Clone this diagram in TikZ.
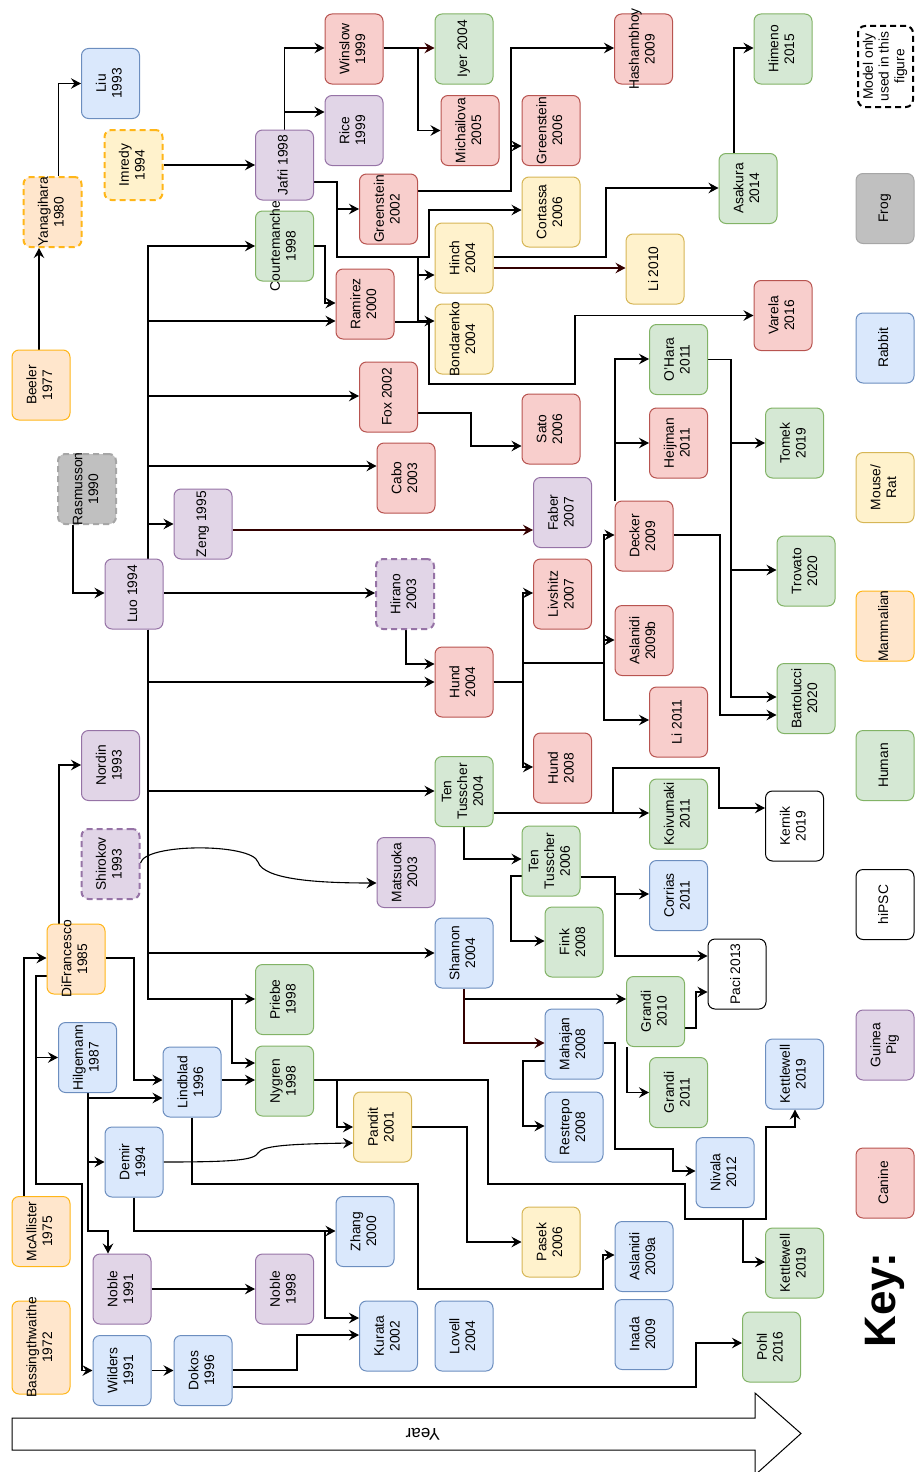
\documentclass[tikz,border=0pt]{standalone}
\usepackage{fontspec}
\setmainfont{Liberation Sans}
\usepackage{graphicx}
\usetikzlibrary{arrows.meta,backgrounds}
\definecolor{bF}{HTML}{DAE8FC}\definecolor{bD}{HTML}{6C8EBF}
\definecolor{gF}{HTML}{D5E8D4}\definecolor{gD}{HTML}{82B366}
\definecolor{rF}{HTML}{F8CECC}\definecolor{rD}{HTML}{B85450}
\definecolor{pF}{HTML}{E1D5E7}\definecolor{pD}{HTML}{9673A6}
\definecolor{yF}{HTML}{FFF2CC}\definecolor{yD}{HTML}{D6B656}
\definecolor{oF}{HTML}{FFE6CC}\definecolor{oD}{HTML}{FFB619}
\definecolor{kF}{HTML}{C0C0C0}\definecolor{kD}{HTML}{A6A6A6}
\definecolor{dkR}{HTML}{330000}
\newcommand{\rt}[1]{\rotatebox{90}{\makebox[0pt]{\begin{tabular}{@{}c@{}}#1\end{tabular}}}}
\newcommand{\fsz}{\fontsize{13.8}{15.8}\selectfont}
\tikzset{
  bx/.style={draw, rounded corners=7pt, minimum width=58pt, minimum height=70pt, inner sep=0pt, line width=1pt, font=\fsz},
  cB/.style={fill=bF, draw=bD},
  cG/.style={fill=gF, draw=gD},
  cR/.style={fill=rF, draw=rD},
  cP/.style={fill=pF, draw=pD},
  cY/.style={fill=yF, draw=yD},
  cO/.style={fill=oF, draw=oD},
  cK/.style={fill=kF, draw=kD},
  cW/.style={fill=white, draw=black},
  dsh/.style={dash pattern=on 6pt off 4pt, line width=2pt},
  ln/.style={line width=1.1pt, draw=black},
  arr/.style={ln, -{Stealth[length=10pt,width=10.5pt,inset=3.5pt]}},
  dk/.style={draw=dkR},
}
\begin{document}
\begin{tikzpicture}[x=1pt,y=-1pt]
\useasboundingbox (0,0) rectangle (916,1472);
% ---------- nodes ----------
\node[bx,cO] (beeler) at (41,385) {\rt{Beeler\\1977}};
\node[bx,cO,dsh,draw=oD] (yanagihara) at (52.5,212) {\rt{Yanagihara\\1980}};
\node[bx,cB] (liu) at (110.5,83.5) {\rt{Liu\\1993}};
\node[bx,cY,dsh,draw=oD] (imredy) at (133.5,165) {\rt{Imredy\\1994}};
\node[bx,cP] (jafri) at (284.5,165) {\rt{Jafri 1998}};
\node[bx,cG] (courtemanche) at (284.5,246) {\rt{Courtemanche\\1998}};
\node[bx,cR] (winslow) at (354,49) {\rt{Winslow\\1999}};
\node[bx,cP] (rice) at (354,130.5) {\rt{Rice\\1999}};
\node[bx,cG] (iyer) at (464,49) {\rt{Iyer 2004}};
\node[bx,cR] (michailova) at (470,130.5) {\rt{Michailova\\2005}};
\node[bx,cR] (greenstein06) at (551,130.5) {\rt{Greenstein\\2006}};
\node[bx,cR] (greenstein02) at (388.5,209) {\rt{Greenstein\\2002}};
\node[bx,cY] (cortassa) at (551,212) {\rt{Cortassa\\2006}};
\node[bx,cY] (hinch) at (464,258) {\rt{Hinch\\2004}};
\node[bx,cR] (ramirez) at (365,304) {\rt{Ramirez\\2000}};
\node[bx,cY] (bondarenko) at (464,339) {\rt{Bondarenko\\2004}};
\node[bx,cR] (hashambhoy) at (643.5,49) {\rt{Hashambhoy\\2009}};
\node[bx,cG] (himeno) at (783,49) {\rt{Himeno\\2015}};
\node[bx,cW,dsh,minimum width=55pt,minimum height=81pt] (modelonly) at (885.5,66.5) {\rt{Model only\\used in this\\figure}};
\node[bx,cG] (asakura) at (748,188.5) {\rt{Asakura\\2014}};
\node[bx,cY] (li2010) at (655,269) {\rt{Li 2010}};
\node[bx,cR] (varela) at (783,315.5) {\rt{Varela\\2016}};
\node[bx,cK] (frog) at (885,208.5) {\rt{Frog}};
\node[bx,cB] (rabbit) at (885,348) {\rt{Rabbit}};
\node[bx,cK,dsh,draw=kD] (rasmusson) at (87,489) {\rt{Rasmusson\\1990}};
\node[bx,cP] (zeng) at (203,524) {\rt{Zeng 1995}};
\node[bx,cP] (luo) at (134,594) {\rt{Luo 1994}};
\node[bx,cR] (fox) at (388.5,397) {\rt{Fox 2002}};
\node[bx,cR] (sato) at (551,429) {\rt{Sato\\2006}};
\node[bx,cR] (cabo) at (406,478) {\rt{Cabo\\2003}};
\node[bx,cP] (faber) at (562.5,512.5) {\rt{Faber\\2007}};
\node[bx,cP,dsh,draw=pD] (hirano) at (405,594) {\rt{Hirano\\2003}};
\node[bx,cR] (livshitz) at (562.5,594) {\rt{Livshitz\\2007}};
\node[bx,cR] (hund04) at (464,682) {\rt{Hund\\2004}};
\node[bx,cG] (ohara) at (678.5,359.5) {\rt{O'Hara\\2011}};
\node[bx,cR] (heijman) at (678.5,443) {\rt{Heijman\\2011}};
\node[bx,cG] (tomek) at (794.5,443) {\rt{Tomek\\2019}};
\node[bx,cR] (decker) at (644,536) {\rt{Decker\\2009}};
\node[bx,cG] (trovato) at (806,571) {\rt{Trovato\\2020}};
\node[bx,cR] (aslanidib) at (644,640.5) {\rt{Aslanidi\\2009b}};
\node[bx,cG] (bartolucci) at (806,698.5) {\rt{Bartolucci\\2020}};
\node[bx,cR] (li2011) at (678.5,722) {\rt{Li 2011}};
\node[bx,cY] (mouserat) at (885,487.5) {\rt{Mouse/\\Rat}};
\node[bx,cO] (mammalian) at (885,626) {\rt{Mammalian}};
\node[bx,cP] (nordin) at (110.5,765.5) {\rt{Nordin\\1993}};
\node[bx,cP,dsh,draw=pD] (shirokov) at (110.5,864) {\rt{Shirokov\\1993}};
\node[bx,cO] (difrancesco) at (76,959) {\rt{DiFrancesco\\1985}};
\node[bx,cB] (hilgemann) at (87.5,1057.5) {\rt{Hilgemann\\1987}};
\node[bx,cG] (priebe) at (284.5,999.5) {\rt{Priebe\\1998}};
\node[bx,cB] (lindblad) at (192,1082) {\rt{Lindblad\\1996}};
\node[bx,cG] (nygren) at (284.5,1081) {\rt{Nygren\\1998}};
\node[bx,cG] (tt04) at (464,791.5) {\rt{Ten\\Tusscher\\2004}};
\node[bx,cR] (hund08) at (562.5,768) {\rt{Hund\\2008}};
\node[bx,cP] (matsuoka) at (406,872.5) {\rt{Matsuoka\\2003}};
\node[bx,cG] (tt06) at (551,861) {\rt{Ten\\Tusscher\\2006}};
\node[bx,cG] (fink) at (574,942) {\rt{Fink\\2008}};
\node[bx,cB] (shannon) at (464,953) {\rt{Shannon\\2004}};
\node[bx,cB] (mahajan) at (574,1044) {\rt{Mahajan\\2008}};
\node[bx,cB] (restrepo) at (574,1127) {\rt{Restrepo\\2008}};
\node[bx,cY] (pandit) at (382.5,1127) {\rt{Pandit\\2001}};
\node[bx,cG] (koivumaki) at (678.5,814) {\rt{Koivumaki\\2011}};
\node[bx,cW] (kernik) at (794.5,826) {\rt{Kernik\\2019}};
\node[bx,cG] (human) at (885,765.5) {\rt{Human}};
\node[bx,cB] (corrias) at (678.5,895.5) {\rt{Corrias\\2011}};
\node[bx,cW] (hipsc) at (885,904.5) {\rt{hiPSC}};
\node[bx,cW] (paci) at (737,974) {\rt{Paci 2013}};
\node[bx,cG] (grandi10) at (655.5,1011.5) {\rt{Grandi\\2010}};
\node[bx,cP] (guineapig) at (885,1045) {\rt{Guinea\\Pig}};
\node[bx,cB] (kettlewellb) at (794.5,1074) {\rt{Kettlewell\\2019}};
\node[bx,cG] (grandi11) at (678.5,1092.5) {\rt{Grandi\\2011}};
\node[bx,cB] (nivala) at (725,1172.5) {\rt{Nivala\\2012}};
\node[bx,cB] (aslanidia) at (644,1256.5) {\rt{Aslanidi\\2009a}};
\node[bx,cG] (kettlewellg) at (794.5,1263) {\rt{Kettlewell\\2019}};
\node[bx,cB] (inada) at (644,1334.5) {\rt{Inada\\2009}};
\node[bx,cG] (pohl) at (771.5,1347) {\rt{Pohl\\2016}};
\node[bx,cR] (canine) at (885,1183) {\rt{Canine}};
\node[bx,cB] (demir) at (134,1162) {\rt{Demir\\1994}};
\node[bx,cO] (mcallister) at (41,1231.5) {\rt{McAllister\\1975}};
\node[bx,cP] (noble91) at (122,1289) {\rt{Noble\\1991}};
\node[bx,cP] (noble98) at (284.5,1289) {\rt{Noble\\1998}};
\node[bx,cO,minimum height=93pt] (bassing) at (41,1347.5) {\rt{Bassingthwaithe\\1972}};
\node[bx,cB] (wilders) at (122,1370.5) {\rt{Wilders\\1991}};
\node[bx,cB] (dokos) at (203,1370.5) {\rt{Dokos\\1996}};
\node[bx,cB] (zhang) at (365,1231.5) {\rt{Zhang\\2000}};
\node[bx,cB] (kurata) at (388.5,1336) {\rt{Kurata\\2002}};
\node[bx,cB] (lovell) at (464,1336) {\rt{Lovell\\2004}};
\node[bx,cY] (pasek) at (551,1242) {\rt{Pasek\\2006}};
\node[font=\fontsize{44}{44}\selectfont\bfseries, rotate=90] (key) at (885,1300) {Key:};
% ---------- year arrow ----------
\draw[line width=1pt, fill=white] (12,1418) -- (755,1418) -- (755,1393) -- (801,1433.5) -- (755,1475) -- (755,1450) -- (12,1450) -- cycle;
\node[font=\fontsize{17}{17}\selectfont, rotate=180] (yearlbl) at (423,1434) {Year};
% ---------- connectors ----------
\begin{pgfonlayer}{background}
\draw[arr] (beeler.north -| 39,0) -- (yanagihara.south -| 39,0);
\draw[arr] (yanagihara.north -| 58.5,0) |- (liu.west);
\draw[arr] (imredy.east) -- (jafri.west);
\draw[arr] (jafri.north) |- (winslow.west |- 0,48);
\draw[arr] (jafri.north) |- (rice.west |- 0,112);
\draw[arr,dk] (winslow.east |- 0,48) -- (iyer.west |- 0,48);
\draw[arr] (winslow.east |- 0,48) -- (418,48) |- (michailova.west);
\draw[arr] (greenstein02.east |- 0,191) -- (511,191) |- (hashambhoy.west |- 0,48);
\draw[arr] (greenstein02.east |- 0,191) -- (511,191) |- (greenstein06.west |- 0,146);
\draw[arr] (jafri.east |- 0,182) -- (337,182) |- (greenstein02.west);
\draw[arr] (jafri.east |- 0,182) -- (337,182) -- (337,257) -- (429,257) |- (cortassa.west |- 0,210);
\draw[arr] (jafri.east |- 0,182) -- (337,182) -- (337,257) -- (418,257) |- (hinch.west |- 0,275);
\draw[arr] (jafri.east |- 0,182) -- (337,182) -- (337,257) -- (418,257) |- (bondarenko.west |- 0,321);
\draw[arr] (hinch.east |- 0,257) -- (606,257) |- (asakura.west |- 0,188);
\draw[arr,dk] (hinch.east |- 0,268) -- (li2010.west |- 0,268);
\draw[arr] (ramirez.east |- 0,322) -- (429,322) -- (429,384) -- (575,384) |- (varela.west);
\draw[arr] (courtemanche.east) -- (325,246) |- (ramirez.west |- 0,303);
\draw[arr] (asakura.north -| 734,0) |- (himeno.west |- 0,48);
% Luo trunk
\draw[arr] (luo.north -| 148,0) |- (courtemanche.west);
\draw[arr] (luo.north -| 148,0) |- (ramirez.west |- 0,321);
\draw[arr] (luo.north -| 148,0) |- (fox.west |- 0,396);
\draw[arr] (luo.north -| 148,0) |- (cabo.west |- 0,466);
\draw[arr] (luo.north -| 148,0) |- (zeng.west);
\draw[arr] (luo.east |- 0,593) -- (hirano.west |- 0,593);
\draw[arr] (luo.south -| 148,0) |- (hund04.west);
\draw[arr] (luo.south -| 148,0) |- (tt04.west |- 0,791);
\draw[arr] (luo.south -| 148,0) |- (shannon.west);
\draw[arr] (luo.south -| 148,0) -- (148,999) -- (priebe.west |- 0,999);
\draw[arr] (luo.south -| 148,0) -- (148,999) -- (232,999) |- (nygren.west |- 0,1063);
\draw[arr] (rasmusson.south -| 73,0) |- (luo.west |- 0,593);
\draw[arr,dk] (zeng.east |- 0,530) -- (faber.west |- 0,530);
\draw[arr] (fox.east |- 0,413) -- (471,413) |- (sato.west |- 0,446);
\draw[arr] (hirano.south -| 406,0) |- (hund04.west |- 0,664);
\draw[arr] (hund04.east) -- (523,682) |- (livshitz.west |- 0,593);
\draw[arr] (hund04.east) -- (523,682) |- (hund08.west |- 0,767);
\draw[arr] (hund04.east) -- (523,682) -- (523,663) -- (604,663) |- (decker.west |- 0,535);
\draw[arr] (hund04.east) -- (523,682) -- (523,663) -- (604,663) |- (aslanidib.west |- 0,640);
\draw[arr] (hund04.east) -- (523,682) -- (523,663) -- (604,663) |- (li2011.west |- 0,720);
\draw[arr] (decker.north -| 615,0) |- (ohara.west |- 0,359);
\draw[arr] (decker.north -| 615,0) |- (heijman.west);
\draw[arr] (ohara.east) -- (731,359.5) |- (tomek.west);
\draw[arr] (ohara.east) -- (731,359.5) |- (trovato.west |- 0,570);
\draw[arr] (ohara.east) -- (731,359.5) |- (bartolucci.west |- 0,697);
\draw[arr] (decker.east |- 0,535) -- (720,535) |- (bartolucci.west |- 0,715);
% left part
\draw[arr] (difrancesco.north -| 59,0) |- (nordin.west |- 0,765);
\draw[arr] (shirokov.east |- 0,863) .. controls (145,843) and (252,843) .. (258,862) .. controls (264,880) and (320,883) .. (matsuoka.west |- 0,883);
\draw[arr] (difrancesco.east |- 0,958) -- (134,958) |- (lindblad.west |- 0,1080);
\draw[arr] (lindblad.east |- 0,1080) -- (nygren.west |- 0,1080);
\draw[arr] (mcallister.north -| 24,0) |- (difrancesco.west |- 0,958);
\draw[arr] (difrancesco.west |- 0,976) -- (36,976) |- (hilgemann.west);
\draw[arr] (difrancesco.west |- 0,976) -- (36,976) -- (36,1184) -- (82,1184) |- (wilders.west);
\draw[arr] (hilgemann.south -| 88,0) |- (lindblad.west |- 0,1098);
\draw[arr] (hilgemann.south -| 88,0) |- (demir.west);
\draw[arr] (hilgemann.south -| 88,0) -- (88,1231) -| (noble91.north -| 108,0);
\draw[arr] (tt04.south) |- (tt06.west |- 0,859);
\draw[arr] (tt04.east |- 0,813) -- (koivumaki.west |- 0,813);
\draw[arr] (tt04.east |- 0,813) -- (613,813) -- (613,768) -- (719,768) |- (kernik.west |- 0,808);
\draw[arr] (tt06.west |- 0,876) -- (511,876) |- (fink.west |- 0,941);
\draw[arr] (tt06.east |- 0,877) -- (615,877) |- (paci.west |- 0,956);
\draw[arr] (tt06.east |- 0,877) -- (615,877) |- (corrias.west |- 0,894);
\draw[arr] (shannon.south) |- (grandi10.west |- 0,999);
\draw[arr,dk] (shannon.south) |- (mahajan.west |- 0,1043);
\draw[arr] (mahajan.west |- 0,1061) -- (523,1061) |- (restrepo.west |- 0,1126);
\draw[arr] (mahajan.east |- 0,1043) -- (615,1043) -- (615,1149) -- (673,1149) |- (nivala.west |- 0,1171);
\draw[arr] (grandi10.east |- 0,1028) -- (696,1028) |- (paci.west |- 0,992);
\draw[arr] (grandi10.south -| 627,0) |- (grandi11.west);
\draw[arr] (nygren.east |- 0,1080) -- (337,1080) |- (pandit.west);
\draw[arr] (nygren.east |- 0,1080) -- (488,1080) -- (488,1184) -- (685,1184) -- (685,1219) -- (766,1219) -- (766,1127) -- (795,1127) -- (kettlewellb.south -| 795,0);
\draw[arr] (nygren.east |- 0,1080) -- (488,1080) -- (488,1184) -- (685,1184) -- (685,1219) -- (743,1219) |- (kettlewellg.west |- 0,1262);
\draw[arr] (demir.east) .. controls (235,1162) and (254,1160) .. (258,1153) .. controls (262,1146) and (285,1144) .. (pandit.west |- 0,1143);
\draw[arr] (lindblad.south -| 192,0) -- (192,1184) -- (418,1184) -- (418,1289) -- (603,1289) |- (aslanidia.west |- 0,1255);
\draw[arr] (demir.south) -- (134,1231) -- (zhang.west |- 0,1231);
\draw[arr] (demir.south) -- (134,1231) -- (325,1231) |- (kurata.west |- 0,1318);
\draw[arr] (dokos.east |- 0,1370) -- (297,1370) |- (kurata.west |- 0,1335);
\draw[arr] (dokos.east |- 0,1387) -- (696,1387) |- (pohl.west |- 0,1343);
\draw[arr] (wilders.east) -- (dokos.west);
\draw[arr] (noble91.east) -- (noble98.west);
\draw[arr] (pandit.east) -- (467,1127) |- (pasek.west);
\end{pgfonlayer}
\end{tikzpicture}
\end{document}
